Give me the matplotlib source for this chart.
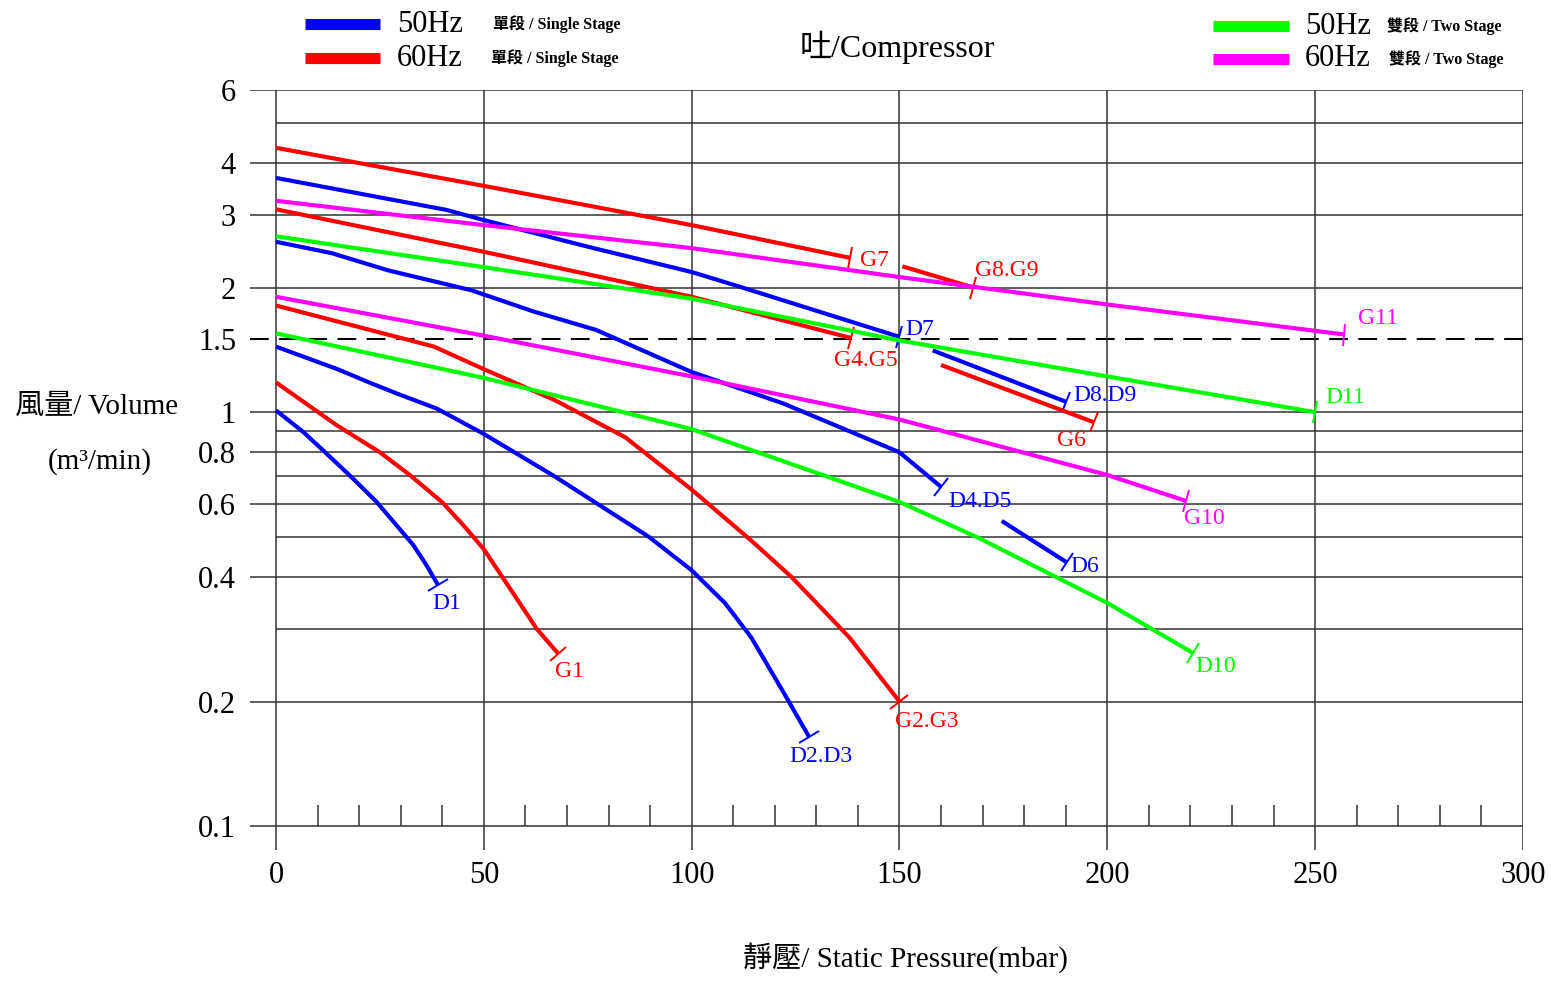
import numpy as np
import matplotlib
matplotlib.use('Agg')
import matplotlib.pyplot as plt
from matplotlib.lines import Line2D
from matplotlib.markers import MarkerStyle
from matplotlib.transforms import Affine2D
from matplotlib.ticker import NullLocator

plt.rcParams['font.family'] = ['Liberation Serif', 'Noto Sans CJK TC']

BLUE = '#0000ff'
RED = '#ff0000'
GREEN = '#00ff00'
PINK = '#ff00ff'

# static pressure (mbar) / volume (m3/min)
# 50Hz single stage (blue)
d1_x = [0, 6.6, 13, 18.6, 24.2, 29.0, 33.0, 36.2, 39.0]
d1_y = [1.01, 0.895, 0.78, 0.69, 0.607, 0.533, 0.478, 0.427, 0.382]
d23_x = [0, 14.8, 22.4, 29, 38.7, 49.9, 67, 89.7, 100, 108, 114.3, 121.8, 128.3]
d23_y = [1.44, 1.27, 1.18, 1.11, 1.02, 0.887, 0.70, 0.50, 0.415, 0.346, 0.286, 0.213, 0.164]
d45_x = [0, 13.5, 27, 47, 62, 77, 100, 122, 150, 160]
d45_y = [2.58, 2.42, 2.2, 1.97, 1.75, 1.58, 1.25, 1.05, 0.80, 0.66]
d6_x = [174.6, 190.2]
d6_y = [0.546, 0.434]
d7_x = [0, 41, 50, 75, 100, 111.5, 150]
d7_y = [3.68, 3.08, 2.91, 2.51, 2.18, 2.01, 1.52]
d89_x = [158, 190]
d89_y = [1.41, 1.06]

# 60Hz single stage (red)
g1_x = [0, 14.6, 25, 32.2, 39.9, 45.1, 49.9, 56.3, 62.7, 67.9]
g1_y = [1.18, 0.93, 0.80, 0.705, 0.607, 0.533, 0.468, 0.375, 0.30, 0.261]
g23_x = [0, 38, 50, 67, 84, 100, 114.3, 124, 137.9, 150]
g23_y = [1.81, 1.44, 1.27, 1.07, 0.87, 0.65, 0.49, 0.40, 0.286, 0.20]
g45_x = [0, 50, 100, 138.4]
g45_y = [3.09, 2.44, 1.90, 1.51]
g6_x = [160, 196.7]
g6_y = [1.30, 0.946]
g7_x = [0, 50, 100, 138]
g7_y = [4.35, 3.52, 2.83, 2.36]
g89_x = [150.7, 167.8]
g89_y = [2.25, 2.0]

# 50Hz two stage (green)
d10_x = [0, 50, 100, 150, 169, 200, 220.6]
d10_y = [1.55, 1.21, 0.91, 0.607, 0.497, 0.346, 0.262]
d11_x = [0, 50, 100, 150, 200, 250]
d11_y = [2.66, 2.24, 1.88, 1.49, 1.22, 1.0]

# 60Hz two stage (pink)
g10_x = [0, 50, 100, 150, 200, 219]
g10_y = [1.90, 1.53, 1.22, 0.96, 0.705, 0.61]
g11_x = [0, 50, 100, 150, 200, 257]
g11_y = [3.24, 2.83, 2.49, 2.12, 1.82, 1.54]

x_ticks = [0, 50, 100, 150, 200, 250, 300]
y_ticks = [0.1, 0.2, 0.4, 0.6, 0.8, 1, 1.5, 2, 3, 4, 6]
y_ticklabels = ['0.1', '0.2', '0.4', '0.6', '0.8', '1', '1.5', '2', '3', '4', '6']
y_extra_grid = [0.3, 0.5, 0.7, 0.9, 5]

# (label, x, y, colour, zorder, label offset in pixels)
curves = [
    ('D1', d1_x, d1_y, BLUE, 3, (9, -18)),
    ('D2.D3', d23_x, d23_y, BLUE, 3, (12, -19)),
    ('D4.D5', d45_x, d45_y, BLUE, 3, (39, -15)),
    ('D6', d6_x, d6_y, BLUE, 3, (18, -4)),
    ('D7', d7_x, d7_y, BLUE, 3, (20, 7)),
    ('D8.D9', d89_x, d89_y, BLUE, 3, (39, 6)),
    ('G1', g1_x, g1_y, RED, 4, (11, -18)),
    ('G2.G3', g23_x, g23_y, RED, 4, (27, -20)),
    ('G4.G5', g45_x, g45_y, RED, 4, (15, -22)),
    ('G6', g6_x, g6_y, RED, 4, (-22, -18)),
    ('G7', g7_x, g7_y, RED, 4, (25, -3)),
    ('G8.G9', g89_x, g89_y, RED, 4, (33, 17)),
    ('G10', g10_x, g10_y, PINK, 5, (18, -17)),
    ('G11', g11_x, g11_y, PINK, 5, (34, 16)),
    ('D10', d10_x, d10_y, GREEN, 6, (23, -14)),
    ('D11', d11_x, d11_y, GREEN, 6, (30, 15)),
]

W, H = 1551, 988
fig = plt.figure(figsize=(W / 100, H / 100), dpi=100)
ax = fig.add_axes([250 / W, (H - 850) / H, (1523 - 250) / W, (850 - 90) / H])
ax.set_yscale('log')
ax.set_xlim(-6.25, 300)
ax.set_ylim(6 * 10 ** (-760 / 414), 6)
for s in ax.spines.values():
    s.set_visible(False)

# grid drawn by hand: labelled rows run out to the tick labels
grid_kw = dict(color='#333333', lw=1.1, zorder=1)
ax.hlines(y_ticks[:6] + y_ticks[7:], -6.25, 300, **grid_kw)
ax.hlines(y_extra_grid, 0, 300, **grid_kw)
ax.plot([-6.25, 300], [1.5, 1.5], color='black', lw=1.5, dashes=(9, 5), zorder=1)
ax.vlines(x_ticks, ax.get_ylim()[0], 6, **grid_kw)
minor_x = [v for v in range(10, 300, 10) if v % 50]
ax.vlines(minor_x, 0.1, 0.1 * 10 ** (21 / 414), **grid_kw)

ax.set_xticks(x_ticks)
ax.set_xticklabels([str(v) for v in x_ticks])
ax.set_yticks(y_ticks)
ax.set_yticklabels(y_ticklabels)
ax.yaxis.set_minor_locator(NullLocator())
ax.tick_params(axis='x', length=0, pad=8, labelsize=22)
ax.tick_params(axis='y', length=0, pad=10, labelsize=22)

for name, xs, ys, col, z, off in curves:
    ax.plot(xs, ys, color=col, lw=3, zorder=z, solid_capstyle='butt',
            solid_joinstyle='round')
    # end mark: short stroke across the curve
    p = ax.transData.transform(np.column_stack([xs[-2:], ys[-2:]]))
    dx, dy = p[1] - p[0]
    ang = np.degrees(np.arctan2(dy, dx))
    mk = MarkerStyle('|', transform=Affine2D().rotate_deg(ang))
    ax.plot([xs[-1]], [ys[-1]], marker=mk, ms=16, mew=1.4, color=col,
            zorder=z, linestyle='none')
    ax.annotate(name, xy=(xs[-1], ys[-1]), xytext=off, textcoords='offset pixels',
                ha='center', va='center', color=col, fontsize=17, zorder=z + 1)

# axis titles
fig.text(905 / W, 1 - 958 / H, '靜壓/ Static Pressure(mbar)', ha='center', va='center',
         fontsize=21)
fig.text(97 / W, 1 - 407 / H, '風量/ Volume', ha='center', va='center', fontsize=21)
fig.text(100 / W, 1 - 462 / H, '(m³/min)', ha='center', va='center', fontsize=21)
fig.text(897 / W, 1 - 47 / H, '吐/Compressor', ha='center', va='center', fontsize=23)

# legend
legend_rows = [
    (305, 380, 24, BLUE, '50Hz', 397, '單段 / Single Stage', 493),
    (305, 380, 58, RED, '60Hz', 397, '單段 / Single Stage', 491),
    (1213, 1289, 26, GREEN, '50Hz', 1305, '雙段 / Two Stage', 1387),
    (1213, 1289, 59, PINK, '60Hz', 1305, '雙段 / Two Stage', 1389),
]
for x0, x1, yy, col, hz, hx, txt, tx in legend_rows:
    fig.add_artist(Line2D([x0 / W, x1 / W], [1 - yy / H, 1 - yy / H], color=col,
                          lw=8, solid_capstyle='butt'))
    fig.text(hx / W, 1 - yy / H, hz, ha='left', va='center', fontsize=22)
    fig.text(tx / W, 1 - yy / H, txt, ha='left', va='center', fontsize=11.5,
             fontweight='bold')

fig.savefig('out.png', dpi=100)
